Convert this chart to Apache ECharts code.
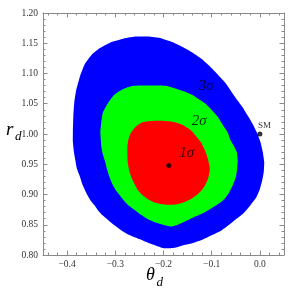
<!DOCTYPE html>
<html>
<head>
<meta charset="utf-8">
<script src="https://cdn.jsdelivr.net/npm/echarts@6/dist/echarts.min.js"></script>
<style>html,body{margin:0;padding:0;background:#fff}#c{width:291px;height:293px}</style>
</head>
<body>
<div id="c"></div>
<script>
// ---- data: contour boundaries (theta_d, r_d) ----
const blue3 = [
  [-0.388, 1.003], [-0.387, 1.031], [-0.385, 1.053], [-0.381, 1.073], [-0.373, 1.096],
  [-0.363, 1.116], [-0.349, 1.131], [-0.332, 1.142], [-0.311, 1.151], [-0.286, 1.157],
  [-0.259, 1.161], [-0.232, 1.161], [-0.204, 1.158], [-0.182, 1.152], [-0.149, 1.139],
  [-0.124, 1.126], [-0.104, 1.112], [-0.087, 1.098], [-0.071, 1.084], [-0.059, 1.070],
  [-0.047, 1.056], [-0.035, 1.043], [-0.025, 1.030], [-0.014, 1.015], [-0.006, 1.002],
  [0.001, 0.987], [0.006, 0.970], [0.009, 0.954], [0.008, 0.937], [0.005, 0.924],
  [0.000, 0.909], [-0.007, 0.896], [-0.020, 0.882], [-0.034, 0.869], [-0.056, 0.855],
  [-0.079, 0.841], [-0.102, 0.832], [-0.121, 0.825], [-0.139, 0.820], [-0.155, 0.817],
  [-0.176, 0.812], [-0.197, 0.811], [-0.207, 0.813], [-0.228, 0.819], [-0.249, 0.826],
  [-0.271, 0.833], [-0.288, 0.841], [-0.303, 0.850], [-0.315, 0.858], [-0.327, 0.866],
  [-0.336, 0.874], [-0.344, 0.883], [-0.352, 0.891], [-0.358, 0.899], [-0.368, 0.916],
  [-0.374, 0.931], [-0.380, 0.944], [-0.383, 0.957], [-0.386, 0.971], [-0.388, 0.987]
];
const green2 = [
  [-0.330, 0.990], [-0.331, 1.003], [-0.329, 1.020], [-0.326, 1.035], [-0.319, 1.046],
  [-0.311, 1.056], [-0.303, 1.064], [-0.294, 1.070], [-0.282, 1.075], [-0.267, 1.079],
  [-0.249, 1.080], [-0.228, 1.080], [-0.207, 1.080], [-0.191, 1.079], [-0.174, 1.075],
  [-0.155, 1.070], [-0.139, 1.064], [-0.124, 1.056], [-0.113, 1.050], [-0.104, 1.043],
  [-0.089, 1.030], [-0.077, 1.015], [-0.067, 1.003], [-0.061, 0.990], [-0.054, 0.980],
  [-0.048, 0.970], [-0.046, 0.957], [-0.047, 0.944], [-0.049, 0.932], [-0.052, 0.924],
  [-0.057, 0.914], [-0.064, 0.903], [-0.073, 0.893], [-0.085, 0.885], [-0.099, 0.878],
  [-0.116, 0.870], [-0.133, 0.864], [-0.151, 0.857], [-0.168, 0.851], [-0.184, 0.847],
  [-0.201, 0.850], [-0.218, 0.854], [-0.232, 0.859], [-0.246, 0.866], [-0.259, 0.874],
  [-0.271, 0.881], [-0.281, 0.889], [-0.290, 0.898], [-0.299, 0.907], [-0.306, 0.917],
  [-0.312, 0.929], [-0.317, 0.941], [-0.321, 0.954], [-0.326, 0.967], [-0.329, 0.979]
];
const red1 = [
  [-0.273, 0.990], [-0.269, 1.000], [-0.263, 1.007], [-0.255, 1.014], [-0.245, 1.019],
  [-0.232, 1.021], [-0.218, 1.022], [-0.203, 1.022], [-0.189, 1.021], [-0.174, 1.019],
  [-0.160, 1.015], [-0.148, 1.009], [-0.139, 1.003], [-0.131, 0.995], [-0.123, 0.987],
  [-0.117, 0.978], [-0.112, 0.969], [-0.108, 0.959], [-0.105, 0.949], [-0.104, 0.941],
  [-0.106, 0.931], [-0.109, 0.923], [-0.114, 0.915], [-0.121, 0.907], [-0.131, 0.899],
  [-0.142, 0.893], [-0.155, 0.888], [-0.171, 0.884], [-0.189, 0.883], [-0.205, 0.884],
  [-0.220, 0.887], [-0.232, 0.892], [-0.244, 0.899], [-0.253, 0.907], [-0.260, 0.917],
  [-0.266, 0.927], [-0.271, 0.939], [-0.274, 0.952], [-0.275, 0.965], [-0.275, 0.979]
];
const bestFit = [-0.189, 0.948];
const smPoint = [0.0, 1.0];
const sigmaNames = ['1σ', '2σ', '3σ'];
const sigmaPos = [[-0.152, 0.969], [-0.126, 1.021], [-0.112, 1.079]];
const xMajor = [-0.4, -0.3, -0.2, -0.1, 0.0];
const yMajor = [0.80, 0.85, 0.90, 0.95, 1.00, 1.05, 1.10, 1.15, 1.20];
const xMinor = [-0.44,-0.42,-0.38,-0.36,-0.34,-0.32,-0.28,-0.26,-0.24,-0.22,-0.18,-0.16,-0.14,-0.12,-0.08,-0.06,-0.04,-0.02,0.02,0.04];
const yMinor = [0.81,0.82,0.83,0.84,0.86,0.87,0.88,0.89,0.91,0.92,0.93,0.94,0.96,0.97,0.98,0.99,1.01,1.02,1.03,1.04,1.06,1.07,1.08,1.09,1.11,1.12,1.13,1.14,1.16,1.17,1.18,1.19];

const FRAME = '#8a8a8a';
const SERIF = '"Liberation Serif", "DejaVu Serif", serif';
const chart = echarts.init(document.getElementById('c'), null, {renderer: 'canvas'});

function xAx(pos, vals, len, showLine, showLabel) {
  return {
    type: 'value', position: pos, min: -0.45, max: 0.05,
    axisLine: {show: showLine, onZero: false, lineStyle: {color: FRAME, width: 1}},
    axisTick: {show: true, inside: true, length: len, customValues: vals, lineStyle: {color: FRAME, width: 1}},
    axisLabel: {show: showLabel, customValues: vals, margin: 4, fontFamily: SERIF, fontSize: 9.5, color: '#333',
      formatter: v => (Math.abs(v) < 1e-9 ? '0.0' : (v < 0 ? '\u2212' : '') + Math.abs(v).toFixed(1))},
    splitLine: {show: false}
  };
}
function yAx(pos, vals, len, showLine, showLabel) {
  return {
    type: 'value', position: pos, min: 0.80, max: 1.20,
    axisLine: {show: showLine, onZero: false, lineStyle: {color: FRAME, width: 1}},
    axisTick: {show: true, inside: true, length: len, customValues: vals, lineStyle: {color: FRAME, width: 1}},
    axisLabel: {show: showLabel, customValues: vals, margin: 5, fontFamily: SERIF, fontSize: 9.5, color: '#333',
      formatter: v => v.toFixed(2)},
    splitLine: {show: false}
  };
}

function polySeries(pts, color, z) {
  return {
    type: 'custom', coordinateSystem: 'cartesian2d', xAxisIndex: 0, yAxisIndex: 0,
    silent: true, animation: false, z: z, clip: true,
    data: [pts[0]],
    renderItem: (params, api) => ({
      type: 'polygon',
      shape: {points: pts.map(p => api.coord(p)), smooth: 0.15},
      style: {fill: color, stroke: null}
    })
  };
}

chart.setOption({
  animation: false,
  grid: {left: 43, right: 7, top: 13, bottom: 38, containLabel: false},
  xAxis: [
    xAx('bottom', xMajor, 4.5, true, true),
    xAx('bottom', xMinor, 2.5, false, false),
    xAx('top', xMajor, 4.5, true, false),
    xAx('top', xMinor, 2.5, false, false)
  ],
  yAxis: [
    yAx('left', yMajor, 4.5, true, true),
    yAx('left', yMinor, 2.5, false, false),
    yAx('right', yMajor, 4.5, true, false),
    yAx('right', yMinor, 2.5, false, false)
  ],
  series: [
    polySeries(blue3, '#0000ff', 1),
    polySeries(green2, '#00ff00', 2),
    polySeries(red1, '#ff0000', 3),
    {
      type: 'scatter', xAxisIndex: 0, yAxisIndex: 0, z: 5, silent: true,
      symbolSize: 5, itemStyle: {color: '#000'},
      data: [bestFit]
    },
    {
      type: 'scatter', xAxisIndex: 0, yAxisIndex: 0, z: 5, silent: true,
      symbolSize: 5, itemStyle: {color: '#000'},
      data: [{value: smPoint, name: 'SM'}],
      label: {show: true, position: 'top', distance: 1, align: 'left', offset: [-2, 0],
        formatter: p => p.name, fontFamily: SERIF, fontSize: 9, color: '#000'}
    },
    {
      type: 'scatter', xAxisIndex: 0, yAxisIndex: 0, z: 6, silent: true,
      symbolSize: 0,
      data: sigmaNames.map((n, i) => ({value: sigmaPos[i], name: n})),
      label: {show: true, position: 'inside', formatter: p => p.name,
        fontFamily: SERIF, fontStyle: 'italic', fontSize: 15, color: '#000'}
    }
  ],
  graphic: [
    {type: 'text', left: 6, top: 120, style: {text: 'r', font: 'italic 19px ' + SERIF, fill: '#000'}},
    {type: 'text', left: 15, top: 130, style: {text: 'd', font: 'italic 13px ' + SERIF, fill: '#000'}},
    {type: 'text', left: 146, top: 266, style: {text: 'θ', font: 'italic 18px ' + SERIF, fill: '#000'}},
    {type: 'text', left: 156.5, top: 276, style: {text: 'd', font: 'italic 13px ' + SERIF, fill: '#000'}}
  ]
});
</script>
</body>
</html>
